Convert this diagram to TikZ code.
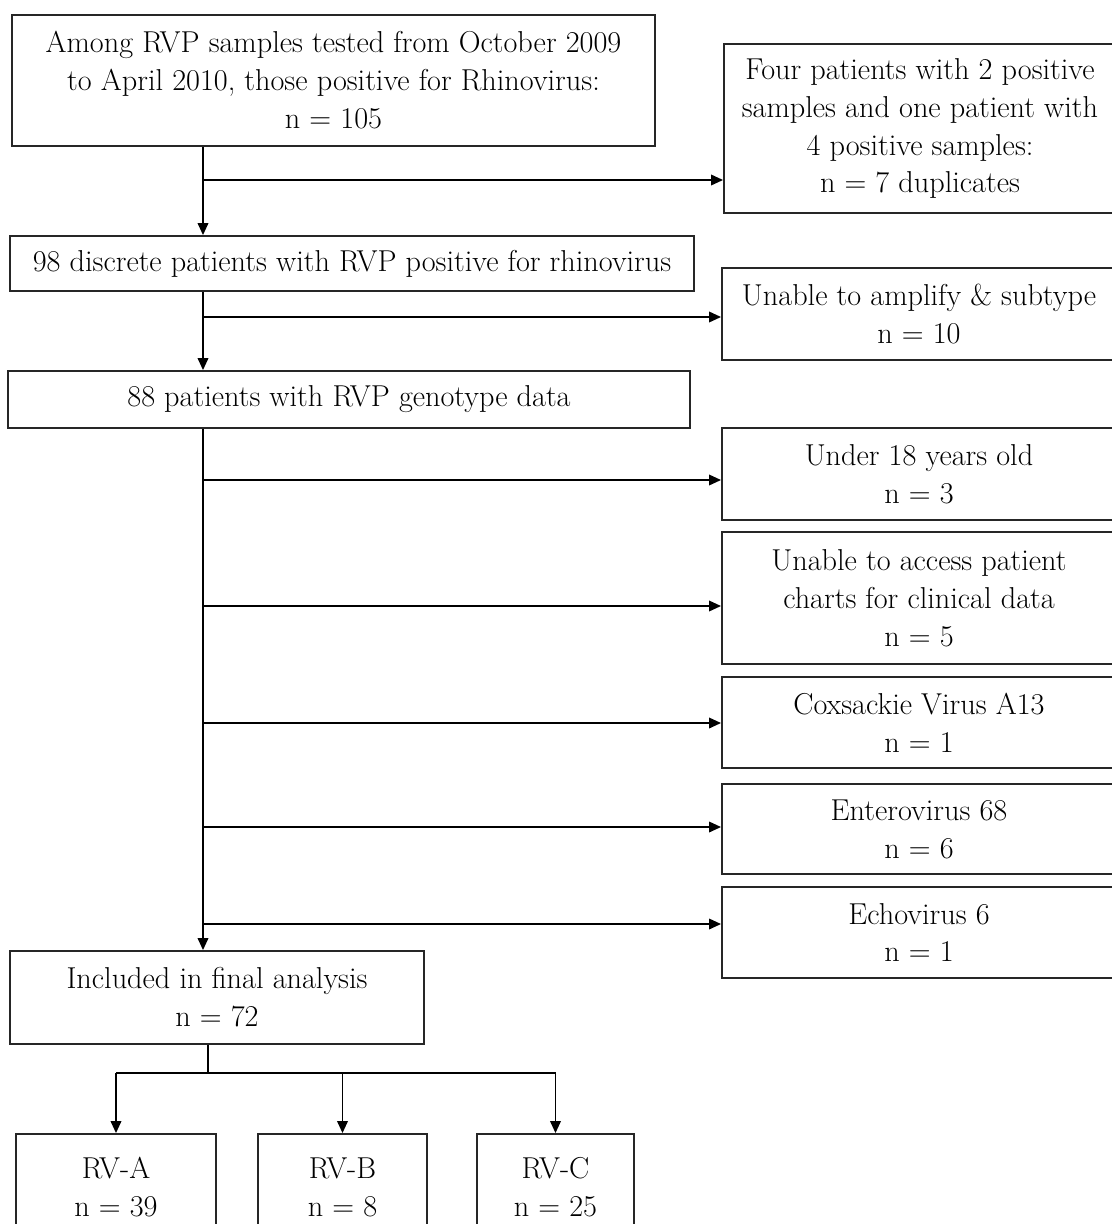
\documentclass[tikz,border=0pt]{standalone}
\usetikzlibrary{arrows.meta,positioning}

\tikzset{
  box/.style={draw=black!85,line width=1.3pt,align=center,inner sep=0pt,
    font=\fontsize{21.5}{27}\selectfont},
  arr/.style={line width=1.2pt,-{Triangle[length=8.5pt,width=7.5pt]}},
  ln/.style={line width=1.2pt}
}

\begin{document}
\begin{tikzpicture}[x=0.025cm,y=-0.025cm]
\useasboundingbox (0,0) rectangle (1112,1224);
\clip (0,0) rectangle (1112,1224);
% main column
\node[box,minimum width=16.075cm,minimum height=3.275cm] (top) at (333.5,80.5)
  {Among RVP samples tested from October 2009\\to April 2010, those positive for Rhinovirus:\\n = 105};
\node[box,minimum width=17.1cm,minimum height=1.375cm] (b98) at (352,263.5)
  {98 discrete patients with RVP positive for rhinovirus};
\node[box,minimum width=17.05cm,minimum height=1.425cm] (b88) at (349,399.5)
  {88 patients with RVP genotype data};
\node[box,minimum width=10.35cm,minimum height=2.325cm] (incl) at (217,997.5)
  {Included in final analysis\\n = 72};
% exclusions
\node[box,minimum width=9.8cm,minimum height=4.225cm] (dup) at (920,128.5)
  {Four patients with 2 positive\\samples and one patient with\\4 positive samples:\\n = 7 duplicates};
\node[box,minimum width=9.85cm,minimum height=2.3cm] (amp) at (919,314)
  {Unable to amplify \& subtype\\n = 10};
\node[box,minimum width=9.85cm,minimum height=2.3cm] (u18) at (919,474)
  {Under 18 years old\\n = 3};
\node[box,minimum width=9.85cm,minimum height=3.3cm] (acc) at (919,598)
  {Unable to access patient\\charts for clinical data\\n = 5};
\node[box,minimum width=9.85cm,minimum height=2.275cm] (cox) at (919,722.5)
  {Coxsackie Virus A13\\n = 1};
\node[box,minimum width=9.85cm,minimum height=2.25cm] (ent) at (919,829)
  {Enterovirus 68\\n = 6};
\node[box,minimum width=9.85cm,minimum height=2.275cm] (echo) at (919,932.5)
  {Echovirus 6\\n = 1};
% subtypes
\foreach \n/\x/\w/\lab/\val in {rva/116/5/A/39,rvb/342.5/4.225/B/8,rvc/555.5/3.925/C/25}{
  \node[box,minimum width=\w cm,minimum height=2.65cm] (\n) at (\x,1187) {RV-\lab\\n = \val};}

\coordinate (spine) at (203,0);
\draw[arr] (top.south -| spine) -- (b98.north -| spine);
\draw[arr] (b98.south -| spine) -- (b88.north -| spine);
\draw[arr] (b88.south -| spine) -- (incl.north -| spine);
\foreach \n/\y in {dup/180,amp/317,u18/480,acc/606,cox/723,ent/827,echo/924}{
  \coordinate (j-\n) at (203,\y);
  \draw[arr] (j-\n) -- (j-\n -| \n.west);}

\coordinate (fork) at (208,1073);
\draw[ln] (incl.south -| fork) -- (fork);
\draw[ln] (rva.north |- fork) -- (rvc.north |- fork);
\foreach \n in {rva,rvb,rvc}{\draw[arr] (\n.north |- fork) -- (\n.north);}
\end{tikzpicture}
\end{document}
